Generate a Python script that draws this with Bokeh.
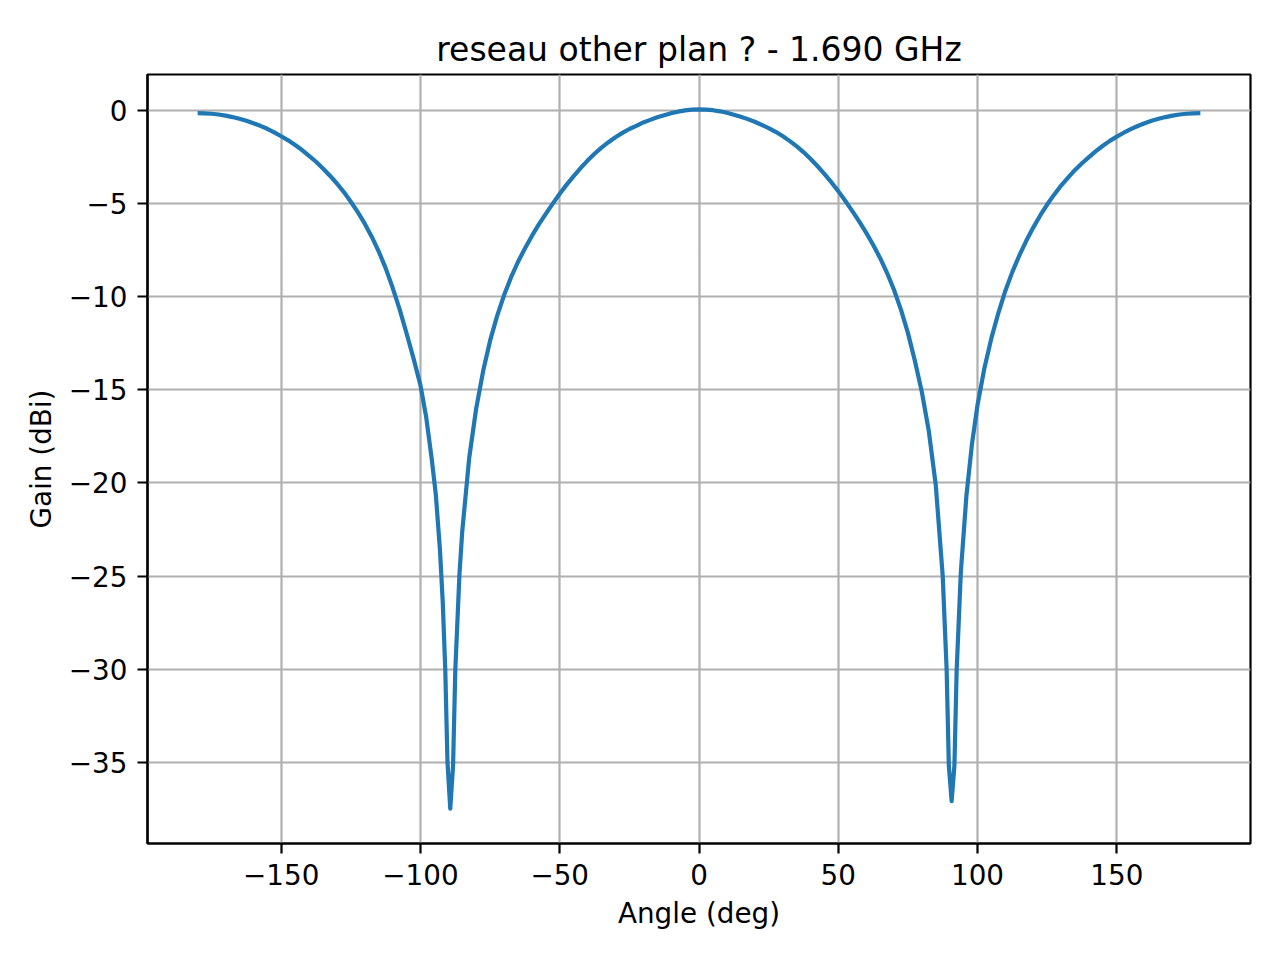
from bokeh.plotting import figure
from bokeh.models import Range1d, FixedTicker, ColumnDataSource
from bokeh.embed import file_html
from bokeh.resources import INLINE

# ---- data (angle in deg, gain in dBi) ----
angles = [
    -180, -177.5, -175, -172.5, -170, -167.5, -165, -162.5, -160, -157.5,
    -155, -152.5, -150, -147.5, -145, -142.5, -140, -137.5, -135, -132.5,
    -130, -127.5, -125, -122.5, -120, -117.5, -115, -112.5, -110, -107.5,
    -105, -102.5, -100, -98, -96, -94.5, -93, -92, -91.1, -90.3,
    -89.3, -88.3, -87.5, -86, -85, -82.5, -80, -77.5, -75, -72.5,
    -70, -67.5, -65, -62.5, -60, -57.5, -55, -52.5, -50, -47.5,
    -45, -42.5, -40, -37.5, -35, -32.5, -30, -27.5, -25, -22.5,
    -20, -17.5, -15, -12.5, -10, -7.5, -5, -2.5, 0, 2.5,
    5, 7.5, 10, 12.5, 15, 17.5, 20, 22.5, 25, 27.5,
    30, 32.5, 35, 37.5, 40, 42.5, 45, 47.5, 50, 52.5,
    55, 57.5, 60, 62.5, 65, 67.5, 70, 72.5, 75, 77.5,
    80, 82.5, 85, 87.5, 88.9, 89.7, 90.7, 91.7, 92.5, 94,
    96, 98, 100, 102.5, 105, 107.5, 110, 112.5, 115, 117.5,
    120, 122.5, 125, 127.5, 130, 132.5, 135, 137.5, 140, 142.5,
    145, 147.5, 150, 152.5, 155, 157.5, 160, 162.5, 165, 167.5,
    170, 172.5, 175, 177.5, 180]
gains = [
    -0.12, -0.13, -0.15, -0.19, -0.25, -0.33, -0.42, -0.53, -0.66, -0.80,
    -0.96, -1.15, -1.36, -1.58, -1.83, -2.10, -2.41, -2.73, -3.09, -3.48,
    -3.90, -4.36, -4.88, -5.44, -6.06, -6.76, -7.55, -8.45, -9.50, -10.65,
    -11.95, -13.3, -14.75, -16.4, -18.66, -20.6, -23.6, -26.4, -30.0, -35.0,
    -37.5, -35.2, -30.1, -24.9, -22.6, -18.65, -16.0, -13.98, -12.35, -11.03,
    -9.91, -8.95, -8.12, -7.39, -6.72, -6.1, -5.53, -4.98, -4.45, -3.96,
    -3.5, -3.07, -2.67, -2.3, -1.97, -1.68, -1.41, -1.18, -0.97, -0.8,
    -0.62, -0.48, -0.34, -0.23, -0.12, -0.04, 0.03, 0.07, 0.08, 0.07,
    0.04, -0.02, -0.10, -0.20, -0.31, -0.44, -0.58, -0.75, -0.92, -1.12,
    -1.35, -1.61, -1.89, -2.21, -2.57, -2.96, -3.38, -3.83, -4.31, -4.83,
    -5.37, -5.94, -6.54, -7.19, -7.90, -8.70, -9.61, -10.68, -11.93, -13.43,
    -15.1, -17.2, -20.1, -25.0, -30.0, -35.2, -37.1, -35.2, -30.1, -24.8,
    -20.7, -17.9, -15.8, -13.8, -12.2, -10.85, -9.66, -8.65, -7.77, -6.98,
    -6.27, -5.62, -5.03, -4.5, -4.01, -3.59, -3.17, -2.81, -2.48, -2.16,
    -1.87, -1.61, -1.38, -1.17, -0.98, -0.81, -0.66, -0.53, -0.42, -0.33,
    -0.25, -0.19, -0.15, -0.13, -0.12]

x_ticks = [-150, -100, -50, 0, 50, 100, 150]
x_tick_labels = ["\u2212150", "\u2212100", "\u221250", "0", "50", "100", "150"]
y_ticks = [0, -5, -10, -15, -20, -25, -30, -35]
y_tick_labels = ["0", "\u22125", "\u221210", "\u221215", "\u221220", "\u221225", "\u221230", "\u221235"]

title_text = "reseau other plan ? - 1.690 GHz"
x_label = "Angle (deg)"
y_label = "Gain (dBi)"

FONT = "DejaVu Sans"
LINE_W = 2.2

src = ColumnDataSource(dict(angle=angles, gain=gains))

# matplotlib-like 5% margins
xmin, xmax = min(angles), max(angles)
ymin, ymax = min(gains), max(gains)
xpad = 0.05 * (xmax - xmin)
ypad = 0.05 * (ymax - ymin)

p = figure(frame_width=1103, frame_height=769,
           min_border_left=147, min_border_right=30,
           min_border_top=74, min_border_bottom=117,
           output_backend="svg", toolbar_location=None,
           x_range=Range1d(xmin - xpad, xmax + xpad),
           y_range=Range1d(ymin - ypad, ymax + ypad),
           title=title_text)

p.line("angle", "gain", source=src, line_color="#1f77b4", line_width=4.2,
       line_join="round")

p.title.align = "center"
p.title.text_font = FONT
p.title.text_font_size = "33px"
p.title.text_font_style = "normal"
p.title.text_color = "black"
p.title.standoff = 12

p.background_fill_color = "white"
p.border_fill_color = "white"
p.outline_line_color = "black"
p.outline_line_width = LINE_W
p.outline_line_alpha = 1.0

p.xaxis.ticker = FixedTicker(ticks=x_ticks)
p.yaxis.ticker = FixedTicker(ticks=y_ticks)
p.xaxis.major_label_overrides = dict(zip(x_ticks, x_tick_labels))
p.yaxis.major_label_overrides = dict(zip(y_ticks, y_tick_labels))

for ax in (p.xaxis, p.yaxis):
    ax.axis_line_color = "black"
    ax.axis_line_width = LINE_W
    ax.major_tick_line_color = "black"
    ax.major_tick_line_width = LINE_W
    ax.major_tick_out = 10
    ax.major_tick_in = 0
    ax.minor_tick_line_color = None
    ax.major_label_text_font = FONT
    ax.major_label_text_font_size = "27.8px"
    ax.major_label_text_color = "black"
    ax.major_label_standoff = 10
    ax.axis_label_text_font = FONT
    ax.axis_label_text_font_size = "27.8px"
    ax.axis_label_text_font_style = "normal"
    ax.axis_label_text_color = "black"

p.xaxis.axis_label_standoff = 9
p.yaxis.axis_label_standoff = 8
p.xaxis.axis_label = x_label
p.yaxis.axis_label = y_label

p.grid.grid_line_color = "#b0b0b0"
p.grid.grid_line_width = LINE_W

open("out.html", "w").write(file_html(p, INLINE))
